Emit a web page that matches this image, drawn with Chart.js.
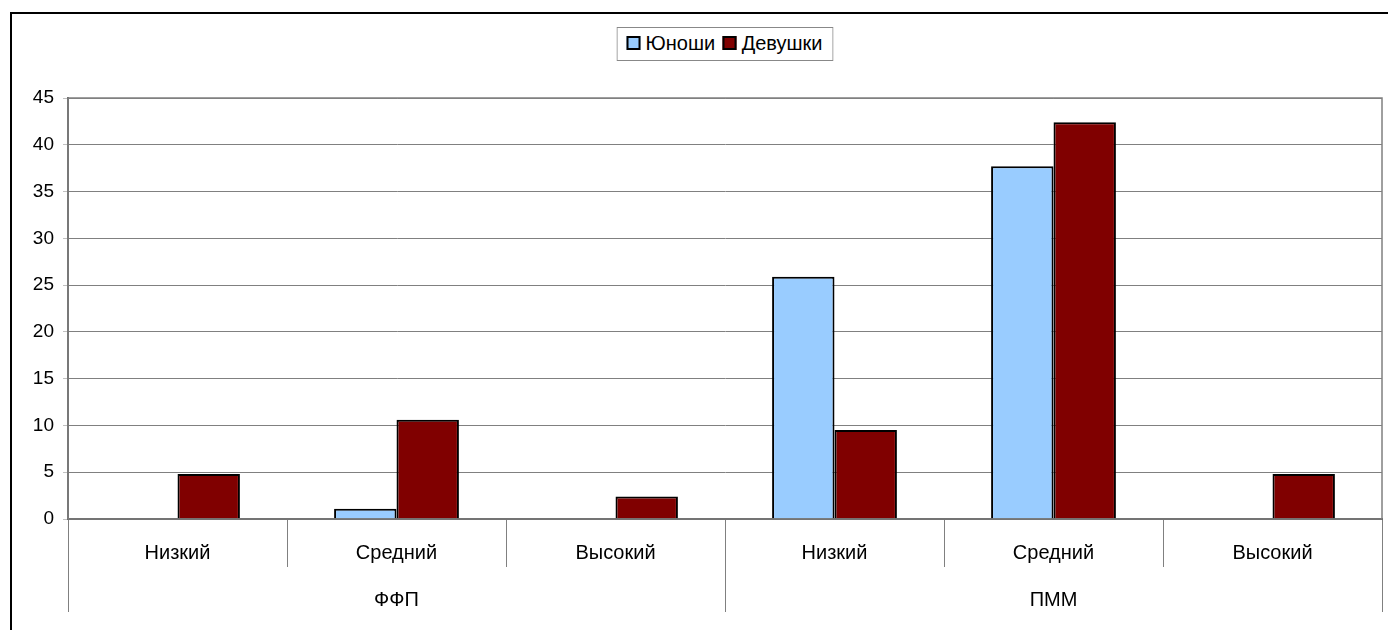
<!DOCTYPE html>
<html>
<head>
<meta charset="utf-8">
<script src="https://cdn.jsdelivr.net/npm/chart.js@4"></script>
<style>
  html, body { margin: 0; padding: 0; background: #fff; }
  #wrap { position: relative; width: 1388px; height: 630px; overflow: hidden; }
  #frame { position: absolute; left: 10px; top: 12px; right: -5px; bottom: -5px;
           border-left: 2px solid #000; border-top: 2px solid #000; }
  #legend { position: absolute; left: 725px; top: 27px; transform: translateX(-50%);
            border: 1px solid #888; background: #fff; padding: 4px 10px 5px 7px;
            font: 20px "Liberation Sans", Arial, sans-serif; color: #000; white-space: nowrap; }
  #legend span.box { display: inline-block; width: 10px; height: 10px; border: 2px solid #000;
                     margin-right: 5px; margin-left: 2px; vertical-align: 0px; }
  canvas { position: absolute; left: 0; top: 0; }
</style>
</head>
<body>
<div id="wrap">
  <div id="frame"></div>
  <canvas id="bar-chart" width="1388" height="630"></canvas>
  <div id="legend"></div>
</div>
<script>
// values
const levels = ['Низкий', 'Средний', 'Высокий', 'Низкий', 'Средний', 'Высокий'];
const groups = ['ФФП', 'ПММ'];
const boys = [0, 1.1, 0, 25.9, 37.7, 0];
const girls = [4.8, 10.6, 2.4, 9.5, 42.4, 4.8];
const seriesNames = ['Юноши', 'Девушки'];
const seriesColors = ['#99CCFF', '#800000'];

const FONT = '"Liberation Sans", Arial, sans-serif';

// legend as html
const legendBox = document.getElementById('legend');
legendBox.innerHTML = seriesNames.map(function (name, i) {
  return '<span class="box" style="background:' + seriesColors[i] + '"></span>' + name;
}).join(' ');

// plot area frame
const areaBorder = {
  id: 'areaBorder',
  afterDraw: function (chart) {
    const a = chart.chartArea;
    const ctx = chart.ctx;
    ctx.save();
    ctx.strokeStyle = '#808080';
    ctx.lineWidth = 1.5;
    ctx.strokeRect(a.left, a.top, a.right - a.left, a.bottom - a.top);
    ctx.restore();
  }
};

const ctx = document.getElementById('bar-chart').getContext('2d');

new Chart(ctx, {
  type: 'bar',
  data: {
    labels: levels,
    datasets: [{
      label: seriesNames[0],
      data: boys,
      backgroundColor: seriesColors[0],
      borderColor: '#000',
      borderWidth: 2,
      xAxisID: 'x'
    }, {
      label: seriesNames[1],
      data: girls,
      backgroundColor: seriesColors[1],
      borderColor: '#000',
      borderWidth: 2,
      xAxisID: 'x'
    }]
  },
  options: {
    responsive: false,
    animation: false,
    devicePixelRatio: 1,
    layout: { padding: { left: 12, right: 6, top: 98, bottom: 0 } },
    datasets: { bar: { barPercentage: 1, categoryPercentage: 0.57 } },
    plugins: {
      legend: { display: false },
      tooltip: { enabled: false }
    },
    scales: {
      y: {
        min: 0,
        max: 45,
        ticks: { stepSize: 5, color: '#000', padding: 9, font: { family: FONT, size: 19 } },
        grid: { color: '#808080', lineWidth: 1, tickLength: 5, tickColor: '#c0c0c0' },
        border: { display: true, color: '#606060', width: 2 },
        afterFit: function (s) { s.width = 56; }
      },
      x: {
        type: 'category',
        position: 'bottom',
        offset: true,
        ticks: { color: '#000', padding: -26, font: { family: FONT, size: 20 } },
        grid: { offset: true, drawOnChartArea: false, tickLength: 48, color: '#808080', lineWidth: 1 },
        border: { display: true, color: '#505050', width: 2 },
        afterFit: function (s) { s.height = 48; }
      },
      x2: {
        type: 'category',
        position: 'bottom',
        labels: groups,
        offset: true,
        ticks: { color: '#000', padding: -24, font: { family: FONT, size: 20 } },
        grid: { offset: true, drawOnChartArea: false, tickLength: 45, color: '#808080', lineWidth: 1 },
        border: { display: false },
        afterFit: function (s) { s.height = 63; }
      }
    }
  },
  plugins: [areaBorder]
});
</script>
</body>
</html>
